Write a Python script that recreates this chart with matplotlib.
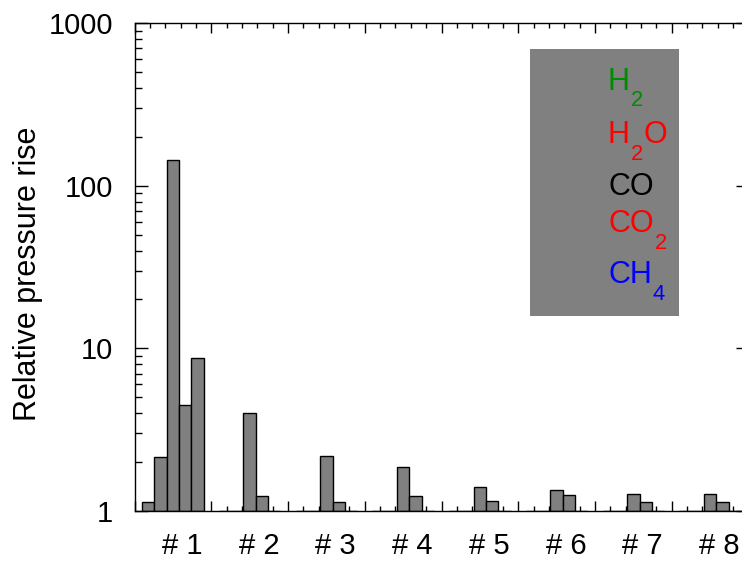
#!/bin/env python3

import numpy as np
import matplotlib
matplotlib.use('Agg')
import matplotlib.pyplot as plt
from matplotlib.patches import Rectangle
from matplotlib.ticker import MultipleLocator, NullFormatter

plt.rcParams['font.family'] = ['Liberation Sans', 'DejaVu Sans']

# data
groups = ['# 1', '# 2', '# 3', '# 4', '# 5', '# 6', '# 7', '# 8']
species = ['H2', 'H2O', 'CO', 'CO2', 'CH4']
h2 = [1.14, 1.0, 1.0, 1.0, 1.0, 1.0, 1.0, 1.0]
h2o = [2.16, 1.0, 1.0, 1.0, 1.0, 1.0, 1.0, 1.0]
co = [144.0, 3.98, 2.18, 1.87, 1.40, 1.34, 1.265, 1.265]
co2 = [4.48, 1.24, 1.13, 1.24, 1.155, 1.25, 1.135, 1.135]
ch4 = [8.7, 1.0, 1.0, 1.0, 1.0, 1.0, 1.0, 1.0]

bar_color = '#808080'
legend_colors = ['#008c00', '#ff0000', '#000000', '#ff0000', '#0000ff']

fs_tick = 21
fs_text = 22

fig = plt.figure(figsize=(7.42, 5.61), dpi=100)
ax_left, ax_w = 134.5 / 742, 614 / 742
ax = fig.add_axes([ax_left, 50 / 561, ax_w, 487.7 / 561])

series = [h2, h2o, co, co2, ch4]
bar_w = 0.16
for j, vals in enumerate(series):
    vals = np.array(vals)
    xs = np.arange(len(groups)) + 0.1 + bar_w * j
    ax.bar(xs, vals - 1, bottom=1, width=bar_w, align='edge',
           color=bar_color, edgecolor='black', linewidth=1.0, zorder=2)

ax.set_yscale('log')
ax.set_ylim(1, 1000)
ax.set_xlim(0, 8)

ax.xaxis.set_major_locator(MultipleLocator(1))
ax.xaxis.set_minor_locator(MultipleLocator(0.2))
ax.xaxis.set_major_formatter(NullFormatter())
ax.set_yticks([1, 10, 100, 1000])
ax.set_yticklabels(['1', '10', '100', '1000'])
ax.yaxis.set_minor_formatter(NullFormatter())

ax.tick_params(axis='both', which='both', direction='in', top=True, right=True, width=1.0)
ax.tick_params(axis='y', which='major', length=9.5, pad=15.5, labelsize=fs_tick)
ax.tick_params(axis='y', which='minor', length=5)
ax.tick_params(axis='x', which='major', length=7.5)
ax.tick_params(axis='x', which='minor', length=3.8)

for s in ax.spines.values():
    s.set_linewidth(1.0)

# group labels sit a bit right of the group centre, as in the original
for i, g in enumerate(groups):
    fig.text(ax_left + ax_w * (i + 0.62) / 8, 0.5 / 561, g,
             ha='center', va='bottom', fontsize=fs_tick)

fig.text(28 / 742, 0.5125, 'Relative pressure rise', rotation=90,
         ha='center', va='center', fontsize=fs_text)

# legend box
ax.add_patch(Rectangle((530 / 742, 245 / 561), 149 / 742, 267 / 561,
                       transform=fig.transFigure, facecolor=bar_color,
                       edgecolor='none', zorder=3, clip_on=False))

legend_parts = [
    [('H', False), ('2', True)],
    [('H', False), ('2', True), ('O', False)],
    [('CO', False)],
    [('CO', False), ('2', True)],
    [('CH', False), ('4', True)],
]
baselines = [89.5, 143.3, 195, 231.7, 283.3]

for parts, yb, col in zip(legend_parts, baselines, legend_colors):
    base = ax.text(608 / 742, 1 - yb / 561, parts[0][0], color=col,
                   transform=fig.transFigure, fontsize=fs_text,
                   va='baseline', ha='left', zorder=4, clip_on=False)
    prev = base
    for s, sub in parts[1:]:
        if sub:
            t = ax.annotate(s, xy=(1, 0), xycoords=(prev, base),
                            xytext=(0.7, -7.2), textcoords='offset points',
                            color=col, fontsize=fs_text * 0.72,
                            va='baseline', ha='left', zorder=4,
                            annotation_clip=False)
        else:
            t = ax.annotate(s, xy=(1, 0), xycoords=(prev, base),
                            xytext=(0, 0), textcoords='offset points',
                            color=col, fontsize=fs_text,
                            va='bottom', ha='left', zorder=4,
                            annotation_clip=False)
        prev = t

plt.savefig('out.png', dpi=100)
